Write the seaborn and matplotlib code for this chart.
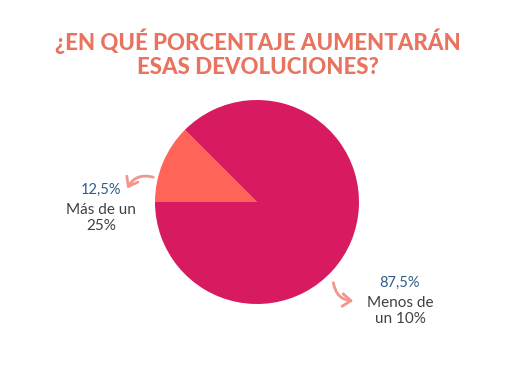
import matplotlib
matplotlib.use("Agg")
import matplotlib.pyplot as plt
import seaborn as sns

# datos
categorias = ["Más de un\n25%", "Menos de\nun 10%"]
porcentajes = [12.5, 87.5]
etiquetas_pct = ["12,5%", "87,5%"]
colores = ["#FF6459", "#D81A60"]

titulo = "¿EN QUÉ PORCENTAJE AUMENTARÁN\nESAS DEVOLUCIONES?"

sns.set_theme(style="white")
plt.rcParams["font.family"] = ["Lato", "DejaVu Sans"]

W, H = 516, 387
fig = plt.figure(figsize=(W / 100, H / 100), dpi=100)
fig.patch.set_facecolor("white")

# centro y radio del pastel en pixeles
cx, cy, r = 257, 202, 102
ax = fig.add_axes([(cx - r) / W, (H - cy - r) / H, 2 * r / W, 2 * r / H])
ax.pie(porcentajes, colors=colores, startangle=180, counterclock=False,
       radius=1, wedgeprops=dict(linewidth=0))
ax.set_xlim(-1, 1)
ax.set_ylim(-1, 1)
ax.axis("off")

def fx(x):
    return x / W

def fy(y):
    return 1 - y / H

fig.text(0.5, fy(53), titulo, ha="center", va="center", color="#E8735F",
         fontsize=16, fontweight="black", linespacing=1.15)

# etiquetas
pos_texto = [(101, 190), (400, 283)]
for (x, y), pct, cat in zip(pos_texto, etiquetas_pct, categorias):
    fig.text(fx(x), fy(y), pct, ha="center", va="center", color="#2F5D8A", fontsize=10.5)
    fig.text(fx(x), fy(y + 28), cat, ha="center", va="center", color="#404040",
             fontsize=11, linespacing=1.2)

# flechas
flechas = [((156, 178), (126, 191), 0.45), ((333, 280), (356, 301), 0.45)]
for (x0, y0), (x1, y1), rad in flechas:
    fig.add_artist(matplotlib.patches.FancyArrowPatch(
        (fx(x0), fy(y0)), (fx(x1), fy(y1)), transform=fig.transFigure,
        connectionstyle=f"arc3,rad={rad}", arrowstyle="->,head_length=4,head_width=3",
        color="#F2958A", linewidth=2, mutation_scale=1.5, capstyle="round",
        joinstyle="round"))

fig.savefig("out.png", dpi=100)
